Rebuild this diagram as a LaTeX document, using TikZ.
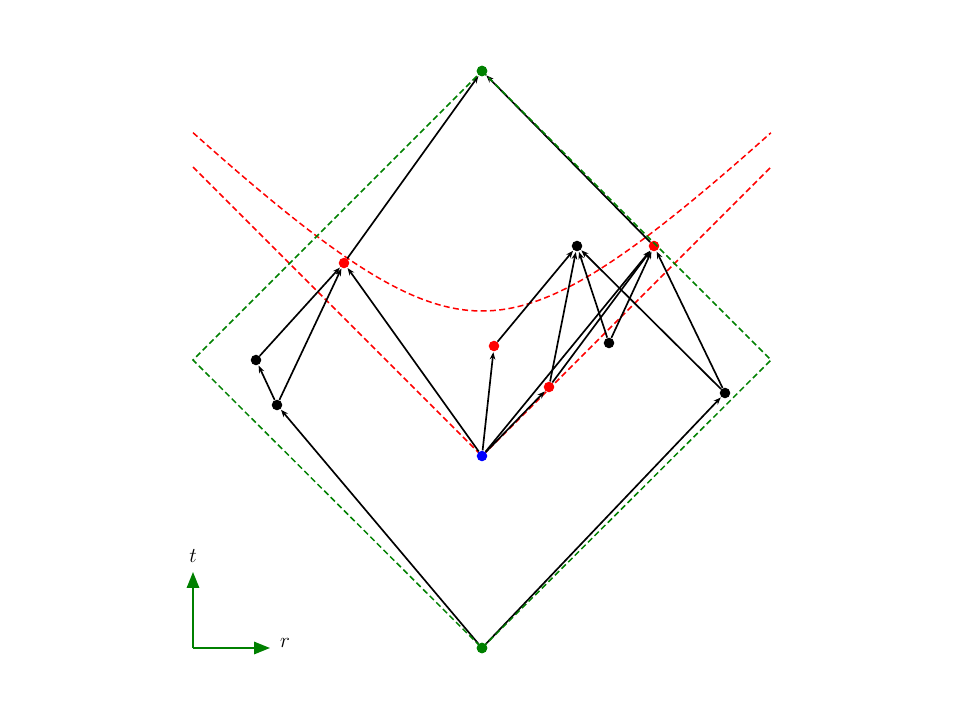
\documentclass[tikz,border=0pt]{standalone}
\usepackage{amsmath,amssymb}
\usepackage{tikz}
\usetikzlibrary{arrows.meta,positioning,calc}
\definecolor{coneGreen}{RGB}{0, 128, 0}
\definecolor{coneRed}{RGB}{255, 0, 0}
\definecolor{coneBlue}{RGB}{0, 0, 255}
\tikzset{
  evdot/.style={circle, fill=#1, inner sep=0pt, minimum size=6pt},
  evdot/.default=black,
  causal/.style={black, line width=0.95pt, -{Stealth[length=4.2pt,width=3.2pt]}, shorten >=0.3pt},
  gdash/.style={coneGreen, line width=0.85pt, dash pattern=on 3.4pt off 1.9pt},
  rdash/.style={coneRed, line width=0.85pt, dash pattern=on 3.4pt off 1.9pt},
  axisarrow/.style={coneGreen, line width=1pt, -{Triangle[length=9pt,width=7pt]}}
}
\begin{document}
\begin{tikzpicture}[x=0.02cm, y=-0.02cm]
  \useasboundingbox (0,0) rectangle (960,720);
  % light cone of the origin and the hyperbola
  \coordinate (cL) at (193,167);
  \coordinate (cR) at (771,167);
  \coordinate (O) at (482,456);
  \draw[rdash] (cL) -- (O) -- (cR);
  \draw[rdash] plot[domain=-2.89:2.89, samples=80, smooth]
    ({482+100*\x}, {456-100*sqrt(1.45*1.45+\x*\x)});
  % events
  \node[evdot=coneGreen] (top) at (482,71) {};
  \node[evdot=coneGreen] (bot) at (482,648) {};
  \node[evdot=coneBlue] (o) at (482,456) {};
  \node[evdot=coneRed] (rA) at (344,263) {};
  \node[evdot=coneRed] (rB) at (494,346) {};
  \node[evdot=coneRed] (rC) at (549,387) {};
  \node[evdot=coneRed] (rD) at (654,246) {};
  \node[evdot] (bA) at (256,360) {};
  \node[evdot] (bB) at (277,405) {};
  \node[evdot] (bC) at (577,246) {};
  \node[evdot] (bD) at (609,343) {};
  \node[evdot] (bE) at (725,393) {};
  % causal links
  \foreach \a/\b in {bot/bB, bot/bE, bB/bA, bA/rA, bB/rA, rA/top, o/rA, o/rB,
                     rB/bC, o/rC, o/rD, rC/bC, rC/rD, bD/bC, bD/rD, bE/bC,
                     bE/rD, rD/top}
    \draw[causal] (\a) -- (\b);
  % boundary diamond
  \coordinate (dL) at (193,360);
  \coordinate (dR) at (771,360);
  \draw[gdash] (top.center) -- (dR) -- (bot.center) -- (dL) -- cycle;
  \node[evdot=coneGreen] at (top) {};
  \node[evdot=coneGreen] at (bot) {};
  % axes
  \coordinate (ax) at (193,648);
  \coordinate (axT) at (193,572);
  \coordinate (axR) at (270,648);
  \draw[axisarrow] (ax) -- (axT);
  \draw[axisarrow] (ax) -- (axR);
  \node[font=\large] (tlab) at (193,556) {$t$};
  \node[font=\large] (rlab) at (285,643) {$r$};
\end{tikzpicture}
\end{document}
